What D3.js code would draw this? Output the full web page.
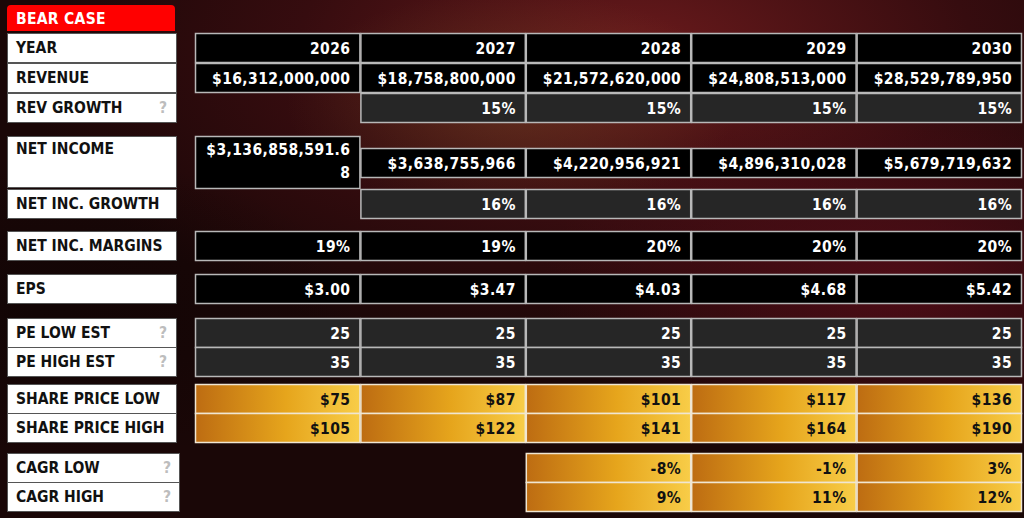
<!DOCTYPE html>
<html>
<head>
<meta charset="utf-8">
<script src="https://cdn.jsdelivr.net/npm/d3@7"></script>
<style>
  html, body { margin: 0; padding: 0; background: #1a0606; }
  svg { display: block; }
  text { font-family: "DejaVu Sans Condensed", "DejaVu Sans", sans-serif; font-stretch: condensed; font-weight: bold; }
</style>
</head>
<body>
<div id="chart"></div>
<script>
// table data
var title = "BEAR CASE";
var years = [2026, 2027, 2028, 2029, 2030];
var revenue = [16312000000, 18758800000, 21572620000, 24808513000, 28529789950];
var revGrowth = [null, 15, 15, 15, 15];
var netIncome = [3136858591.68, 3638755966, 4220956921, 4896310028, 5679719632];
var netIncGrowth = [null, 16, 16, 16, 16];
var netIncMargins = [19, 19, 20, 20, 20];
var eps = [3.00, 3.47, 4.03, 4.68, 5.42];
var peLow = [25, 25, 25, 25, 25];
var peHigh = [35, 35, 35, 35, 35];
var sharePriceLow = [75, 87, 101, 117, 136];
var sharePriceHigh = [105, 122, 141, 164, 190];
var cagrLow = [null, null, -8, -1, 3];
var cagrHigh = [null, null, 9, 11, 12];

var fmtMoney = d3.format("$,");
var fmtPct = function(v) { return v + "%"; };
var fmtEps = d3.format("$.2f");
var fmtInt = d3.format("d");
var fmtShare = function(v) { return "$" + v; };

// row definitions: label, values, formatter, cell style, layout
var rows = [
  {label: "YEAR", values: years, fmt: fmtInt, style: "black", top: 33},
  {label: "REVENUE", values: revenue, fmt: fmtMoney, style: "black", top: 63},
  {label: "REV GROWTH", values: revGrowth, fmt: fmtPct, style: "grey", top: 93, help: true},
  {label: "NET INCOME", values: netIncome, fmt: fmtMoney, style: "black", top: 148, labelTop: 136, labelH: 51, tall: true},
  {label: "NET INC. GROWTH", values: netIncGrowth, fmt: fmtPct, style: "grey", top: 189},
  {label: "NET INC. MARGINS", values: netIncMargins, fmt: fmtPct, style: "black", top: 231},
  {label: "EPS", values: eps, fmt: fmtEps, style: "black", top: 274},
  {label: "PE LOW EST", values: peLow, fmt: fmtInt, style: "grey", top: 318, help: true},
  {label: "PE HIGH EST", values: peHigh, fmt: fmtInt, style: "grey", top: 347, help: true},
  {label: "SHARE PRICE LOW", values: sharePriceLow, fmt: fmtShare, style: "gold", top: 384},
  {label: "SHARE PRICE HIGH", values: sharePriceHigh, fmt: fmtShare, style: "gold", top: 413},
  {label: "CAGR LOW", values: cagrLow, fmt: fmtPct, style: "gold", top: 453, help: true, wide: true},
  {label: "CAGR HIGH", values: cagrHigh, fmt: fmtPct, style: "gold", top: 482, help: true, wide: true}
];

var width = 1024, height = 518;
var rowH = 29;
var fontSize = 15.5;

var x = d3.scaleBand().domain(years).range([195, 1022]).padding(0);

var svg = d3.select("#chart").append("svg")
  .attr("width", width)
  .attr("height", height);

var defs = svg.append("defs");

// background glow
var bg1 = defs.append("radialGradient").attr("id", "bg1")
  .attr("cx", "62%").attr("cy", "10%").attr("r", "60%");
bg1.append("stop").attr("offset", "0%").attr("stop-color", "#6a1a1c");
bg1.append("stop").attr("offset", "55%").attr("stop-color", "#360c0f");
bg1.append("stop").attr("offset", "100%").attr("stop-color", "#1a0707");

var bg2 = defs.append("radialGradient").attr("id", "bg2")
  .attr("cx", "88%").attr("cy", "55%").attr("r", "35%");
bg2.append("stop").attr("offset", "0%").attr("stop-color", "#5a0e1a").attr("stop-opacity", 0.8);
bg2.append("stop").attr("offset", "100%").attr("stop-color", "#5a0e1a").attr("stop-opacity", 0);

var bg3 = defs.append("radialGradient").attr("id", "bg3")
  .attr("cx", "50%").attr("cy", "20%").attr("r", "22%");
bg3.append("stop").attr("offset", "0%").attr("stop-color", "#7a5a2a").attr("stop-opacity", 0.35);
bg3.append("stop").attr("offset", "100%").attr("stop-color", "#7a5a2a").attr("stop-opacity", 0);

var bg4 = defs.append("radialGradient").attr("id", "bg4")
  .attr("cx", "5%").attr("cy", "60%").attr("r", "30%");
bg4.append("stop").attr("offset", "0%").attr("stop-color", "#0e0404").attr("stop-opacity", 0.7);
bg4.append("stop").attr("offset", "100%").attr("stop-color", "#0e0404").attr("stop-opacity", 0);

var gold = defs.append("linearGradient").attr("id", "gold")
  .attr("x1", "0%").attr("x2", "100%").attr("y1", "0%").attr("y2", "0%");
gold.append("stop").attr("offset", "0%").attr("stop-color", "#bd6c12");
gold.append("stop").attr("offset", "55%").attr("stop-color", "#e6a51c");
gold.append("stop").attr("offset", "100%").attr("stop-color", "#f8cd48");

["bg1", "bg2", "bg3", "bg4"].forEach(function(id) {
  svg.append("rect").attr("width", width).attr("height", height).attr("fill", "url(#" + id + ")");
});

// title tab
svg.append("path")
  .attr("d", "M7,31 V9 Q7,5 11,5 H171 Q175,5 175,9 V31 Z")
  .attr("fill", "#ff0000");
svg.append("text")
  .attr("x", 16).attr("y", 18 + 5.6)
  .attr("fill", "#fff")
  .attr("font-size", fontSize)
  .attr("letter-spacing", 0.3)
  .text(title);

// label column
var gLabels = svg.append("g").attr("id", "g-labels");
rows.forEach(function(r) {
  var top = r.labelTop != null ? r.labelTop : r.top;
  var h = r.labelH || rowH;
  var w = r.wide ? 172 : 169;
  gLabels.append("rect")
    .attr("x", 7.5).attr("y", top + 0.5)
    .attr("width", w).attr("height", h)
    .attr("fill", "#fff")
    .attr("stroke", "#555").attr("stroke-width", 1);
  var ty = r.tall ? top + 18 : top + h / 2 + 5.8;
  gLabels.append("text")
    .attr("x", 16).attr("y", ty)
    .attr("fill", "#111")
    .attr("font-size", fontSize)
    .text(r.label);
  if (r.help) {
    gLabels.append("text")
      .attr("x", r.wide ? 163 : 159).attr("y", ty)
      .attr("fill", "#bdbdbd")
      .attr("font-size", fontSize)
      .text("?");
  }
});

// value cells
var fills = {black: "#000", grey: "#262626", gold: "url(#gold)"};
var strokes = {black: "#b8b8b8", grey: "#b8b8b8", gold: "#f0e6d2"};
var textFill = {black: "#fff", grey: "#fff", gold: "#111"};

var gCells = svg.append("g").attr("id", "g-cells");
rows.forEach(function(r) {
  var cells = years.map(function(y, i) { return {year: y, i: i, v: r.values[i]}; })
    .filter(function(d) { return d.v != null; });

  var g = gCells.append("g");
  var cell = g.selectAll(".cell").data(cells).enter().append("g").attr("class", "cell");

  cell.append("rect")
    .attr("x", function(d) { return x(d.year) + 0.5; })
    .attr("y", function(d) { return (r.tall && d.i === 0 ? r.labelTop : r.top) + 0.5; })
    .attr("width", x.bandwidth() - 1)
    .attr("height", function(d) { return r.tall && d.i === 0 ? r.labelH + 1 : rowH; })
    .attr("fill", fills[r.style])
    .attr("stroke", strokes[r.style])
    .attr("stroke-width", 1.5);

  cell.each(function(d) {
    var txt = r.fmt(d.v);
    var right = x(d.year) + x.bandwidth() - 10;
    var sel = d3.select(this);
    if (r.tall && d.i === 0) {
      // wrap characters like the narrow html cell does
      var maxW = x.bandwidth() - 19;
      var probe = sel.append("text").attr("font-size", fontSize).attr("letter-spacing", 0.4);
      var lines = [], cur = "";
      for (var k = 0; k < txt.length; k++) {
        probe.text(cur + txt[k]);
        if (probe.node().getComputedTextLength() > maxW && cur.length) {
          lines.push(cur); cur = txt[k];
        } else {
          cur += txt[k];
        }
      }
      lines.push(cur);
      probe.remove();
      lines.forEach(function(line, li) {
        sel.append("text")
          .attr("x", right).attr("y", r.labelTop + 19 + li * 23)
          .attr("text-anchor", "end")
          .attr("fill", textFill[r.style])
          .attr("font-size", fontSize)
          .attr("letter-spacing", 0.4)
          .text(line);
      });
    } else {
      sel.append("text")
        .attr("x", right).attr("y", r.top + rowH / 2 + 6)
        .attr("text-anchor", "end")
        .attr("fill", textFill[r.style])
        .attr("font-size", fontSize)
        .attr("letter-spacing", 0.4)
        .text(txt);
    }
  });
});
</script>
</body>
</html>
